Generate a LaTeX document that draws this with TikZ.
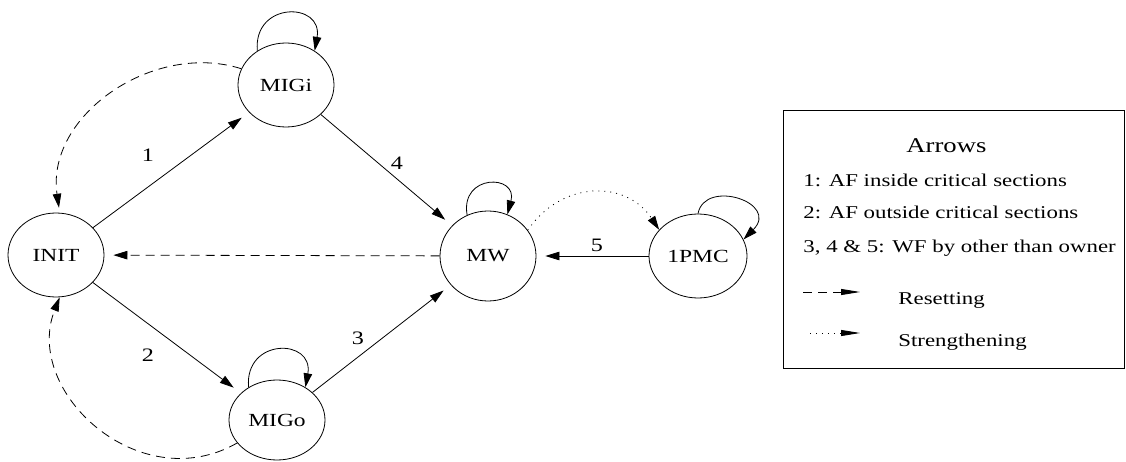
\documentclass[tikz,border=0pt]{standalone}
\usepackage{fontspec}
\setmainfont{Liberation Serif}[FakeStretch=1.27]
\usetikzlibrary{arrows.meta,shapes.geometric}
\tikzset{
    state/.style={ellipse,draw,inner sep=0pt,minimum width=96pt,minimum height=84pt},
    trans/.style={->,shorten >=9pt},
    resetline/.style={dash pattern=on 9pt off 6pt},
    strongline/.style={dash pattern=on 1pt off 5pt},
    keytip/.style={-{Triangle[length=19pt,width=6pt]}},
    keytext/.style={anchor=base west,inner sep=0pt}
}

\begin{document}
\begin{tikzpicture}[x=1pt,y=1pt,line width=0.8pt,>={Triangle[length=14pt,width=8.5pt]},
    font=\fontsize{18.5}{21}\selectfont]
    \useasboundingbox (0,0) rectangle (1126,461);
    % states
    \node [state] (init) at (56,206) {INIT};
    \node [state] (migi) at (286,376) {MIGi};
    \node [state,minimum height=80pt] (migo) at (277,41) {MIGo};
    \node [state,minimum height=90pt] (mw) at (488,205) {MW};
    \node [state,minimum width=98pt] (pmc) at (698,205) {1PMC};
    % transitions
    \draw [trans] (init) -- (migi);
    \draw [trans] (init) -- (migo);
    \draw [trans] (migi) -- (mw);
    \draw [trans] (migo) -- (mw);
    \draw [trans] (pmc) -- (mw);
    \draw [trans,resetline] (mw) -- (init);
    \begin{scope}[font=\fontsize{19}{22}\selectfont]
    \node (n1) at (148,306) {1};
    \node (n2) at (148,106) {2};
    \node (n3) at (358,123) {3};
    \node (n4) at (397,298) {4};
    \node (n5) at (597,216) {5};
    \end{scope}
    % self loops
    \draw [->] (migi.130) .. controls +(95:50) and +(80:50) .. (migi.50);
    \draw [->] (migo.131) .. controls +(95:50) and +(80:50) .. (migo.49);
    \draw [->] (mw.117) .. controls +(100:42) and +(75:42) .. (mw.65);
    \draw [->] (pmc.90) .. controls +(79:36) and +(45:52) .. (pmc.20);
    % resetting and strengthening
    \draw [->,resetline,shorten >=5pt] (migi.160) .. controls +(-88,28) and +(-14,97) .. (init.85);
    \draw [->,resetline] (migo.210) .. controls +(-98,-56) and +(-37,-94) .. (init.275);
    \draw [->,strongline] (mw.33) .. controls +(34,50) and +(-33,50) .. (pmc.146);
    % legend
    \begin{scope}[font=\fontsize{18}{21}\selectfont]
    \node [draw,inner sep=0pt,minimum width=341pt,minimum height=258pt] (key) at (953.5,222) {};
    \node [keytext,font=\fontsize{21}{25}\selectfont] (keyhead) at (906,308) {Arrows};
    \node [keytext] (key1) at (803,274) {1: AF inside critical sections};
    \node [keytext] (key2) at (803,242) {2: AF outside critical sections};
    \node [keytext] (key3) at (803,209) {3, 4 \& 5: WF by other than owner};
    \node [keytext] (key4) at (898,157) {Resetting};
    \node [keytext] (key5) at (898,115) {Strengthening};
    \coordinate (rsa) at (803,169);
    \coordinate (rsb) at (860,169);
    \coordinate (sta) at (810,128);
    \coordinate (stb) at (860,128);
    \draw [keytip,resetline] (rsa) -- (rsb);
    \draw [keytip,strongline] (sta) -- (stb);
    \end{scope}
\end{tikzpicture}
\end{document}
